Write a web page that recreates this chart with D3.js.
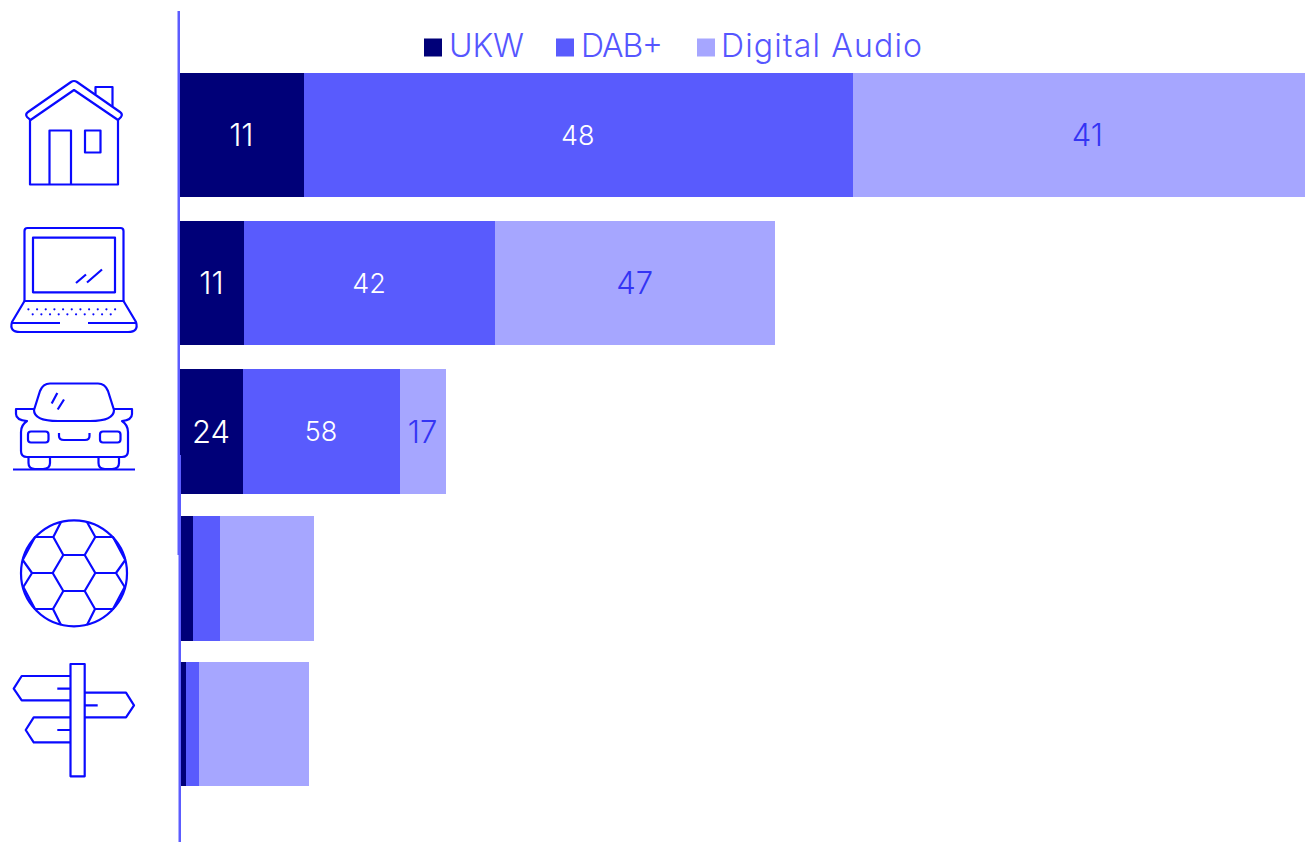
<!DOCTYPE html>
<html>
<head>
<meta charset="utf-8">
<script src="https://cdnjs.cloudflare.com/ajax/libs/d3/7.8.5/d3.min.js"></script>
<style>
html, body { margin: 0; padding: 0; background: #fff; }
svg { display: block; }
text { font-family: Inter, sans-serif; font-weight: 300; }
</style>
</head>
<body>
<svg width="1305" height="842"></svg>
<script>
// bar lengths, longest bar = 100
var rows = ["home", "laptop", "car", "stadium", "outdoors"];
var ukw = [11.0, 5.7, 5.6, 1.15, 0.55];
var dab = [48.8, 22.3, 13.95, 2.4, 1.15];
var digital = [40.2, 24.9, 4.1, 8.35, 9.8];

// printed shares, small bars have none
var ukwLabels = [11, 11, 24, null, null];
var dabLabels = [48, 42, 58, null, null];
var digitalLabels = [41, 47, 17, null, null];

var seriesNames = ["UKW", "DAB+", "Digital Audio"];
var seriesKeys = ["ukw", "dab", "digital"];
var seriesColors = ["#000078", "#595bfd", "#a6a6ff"];
var labelColors = ["#ffffff", "#ffffff", "#3434f4"];
var labelSizes = [31, 27, 31];

var iconColor = "#0a0aff";
var axisColor = "#5c5cff";

var svg = d3.select("svg");

var table = rows.map(function (r, i) {
  return { row: r, ukw: ukw[i], dab: dab[i], digital: digital[i] };
});
var labelsBySeries = [ukwLabels, dabLabels, digitalLabels];

var x = d3.scaleLinear().domain([0, 100]).range([180, 1305]);
var rowTop = d3.scaleOrdinal().domain(rows).range([73, 221, 369, 516, 662]);
var rowBottom = d3.scaleOrdinal().domain(rows).range([197, 345, 494, 641, 786]);

var stacked = d3.stack().keys(seriesKeys)(table);

var groups = svg.selectAll("g.series")
  .data(stacked)
  .enter().append("g")
  .attr("class", "series")
  .attr("fill", function (d, i) { return seriesColors[i]; });

groups.selectAll("rect")
  .data(function (d) { return d; })
  .enter().append("rect")
  .attr("shape-rendering", "crispEdges")
  .attr("x", function (d) { return Math.round(x(d[0])); })
  .attr("width", function (d) { return Math.round(x(d[1])) - Math.round(x(d[0])); })
  .attr("y", function (d) { return rowTop(d.data.row); })
  .attr("height", function (d) { return rowBottom(d.data.row) - rowTop(d.data.row); });

groups.each(function (s, si) {
  d3.select(this).selectAll("text")
    .data(s.filter(function (d, i) { return labelsBySeries[si][i] != null; }))
    .enter().append("text")
    .attr("x", function (d) {
      // the 41 sits right of centre in the original
      var shift = (si == 2 && d.data.row == "home") ? 9 : 0;
      return (x(d[0]) + x(d[1])) / 2 - 0.5 + shift;
    })
    .attr("y", function (d) { return (rowTop(d.data.row) + rowBottom(d.data.row)) / 2; })
    .attr("dy", "0.36em")
    .attr("text-anchor", "middle")
    .attr("font-size", labelSizes[si])
    .attr("fill", labelColors[si])
    .text(function (d, i) { return labelsBySeries[si].filter(function (v) { return v != null; })[i]; });
});

// vertical axis line, it is not quite straight in the original
svg.append("path")
  .attr("fill", axisColor)
  .attr("d", "M177.5,11H180V455H181V842H178.5V555H177.5Z");

// legend
var legendBox = [424, 556, 697];
var legendText = [449, 581, 721];
var legendWidth = [75, 82, 201];
var legend = svg.selectAll("g.legend")
  .data(seriesNames)
  .enter().append("g")
  .attr("class", "legend");
legend.append("rect")
  .attr("x", function (d, i) { return legendBox[i]; })
  .attr("y", 38.5)
  .attr("width", 18)
  .attr("height", 18)
  .attr("fill", function (d, i) { return seriesColors[i]; });
legend.append("text")
  .attr("x", function (d, i) { return legendText[i]; })
  .attr("y", 57)
  .attr("font-size", 32)
  .attr("fill", "#5656ff")
  .attr("textLength", function (d, i) { return legendWidth[i]; })
  .attr("lengthAdjust", "spacing")
  .text(function (d) { return d; });

// icons
var icons = svg.append("g")
  .attr("fill", "none")
  .attr("stroke", iconColor)
  .attr("stroke-width", 2.2)
  .attr("stroke-linejoin", "round");

function icon(d) { icons.append("path").attr("d", d); }

// house
icon("M30.5,120L27,117Q25,114 28,112L71,82Q74,80 77,82L120,112Q123,114 121,117L118,120L74,90Z");
icon("M30,119V184.5H118V119");
icon("M49.5,184.5V130.5H71V184.5");
icon("M85,130.5H100.5V152.5H85Z");
icon("M95.5,94V87H112.5V106");

// laptop
icon("M24.5,301V231Q24.5,228 27.5,228H120.5Q123.5,228 123.5,231V301");
icon("M33,237.7H115V292.3H33Z");
icon("M76,283L86,274.5M87,282.5L102,269.5");
icon("M24.5,301H123.5L136,322Q139,332 128,332H20Q9,332 12,322Z");
icon("M11,323H60M88,323H137");
d3.range(11).forEach(function (i) {
  icons.append("circle").attr("cx", 28.4 + i * 8.67).attr("cy", 309.3).attr("r", 1.1)
    .attr("fill", iconColor).attr("stroke", "none");
});
d3.range(10).forEach(function (i) {
  icons.append("circle").attr("cx", 32.7 + i * 8.67).attr("cy", 314.3).attr("r", 1.1)
    .attr("fill", iconColor).attr("stroke", "none");
});

// car
icon("M50,383.5H98Q105,383.5 108,391L114,410Q114,421 90,421H58Q34,421 34,410L40,391Q43,383.5 50,383.5Z");
icon("M34,409H16V414Q16,420 27,421Q21,425 21,432V451Q21,457 27,457H122Q128,457 128,451V432Q128,425 122,421Q132,420 132,414V409H114");
icon("M31,431.5H45.5Q48.5,431.5 48.5,434.5V439.5Q48.5,442.5 45.5,442.5H31Q28,442.5 28,439.5V434.5Q28,431.5 31,431.5Z");
icon("M103,431.5H117.5Q120.5,431.5 120.5,434.5V439.5Q120.5,442.5 117.5,442.5H103Q100,442.5 100,439.5V434.5Q100,431.5 103,431.5Z");
icon("M59,433V436Q59,440 64,440H85Q89.5,440 89.5,436V433");
icon("M51.7,403.5L57.3,393M57.7,409.5L64,399.5");
icon("M28.5,457V463Q28.5,469 35,469H43Q50,469 50,463V457");
icon("M98.5,457V463Q98.5,469 105,469H112Q119,469 119,463V457");
icon("M13,469.5H135");

// football
icons.append("circle").attr("cx", 74).attr("cy", 573.3).attr("r", 53);
icon("M63.3,555H84.7L95.3,573L84.7,591H63.3L52.7,573Z");
icon("M63.3,555L53.3,537L61,522M84.7,555L95.3,537L87,522");
icon("M53.3,537H35L22.7,560M95.3,537H113L125.3,560");
icon("M52.7,573H32L22.7,560M32,573L23.3,587M95.3,573H116L125.3,560M116,573L124.7,587");
icon("M63.3,591L53,609L61,625M84.7,591L95,609L87,625");
icon("M53,609H35L23.3,587M95,609H113L124.7,587");

// signpost
icon("M70.5,664H84.7V776.3H70.5Z");
icon("M70.5,676H21.7L13.7,688.7L21.7,700.3H70.5M57.3,688.7H70.5");
icon("M84.7,692.7H126L134,705.3L126,717.3H84.7M84.7,705.3H97.7");
icon("M70.5,717.3H33.7L25.7,730L33.7,742.3H70.5M57.3,730H70.5");
</script>
</body>
</html>
